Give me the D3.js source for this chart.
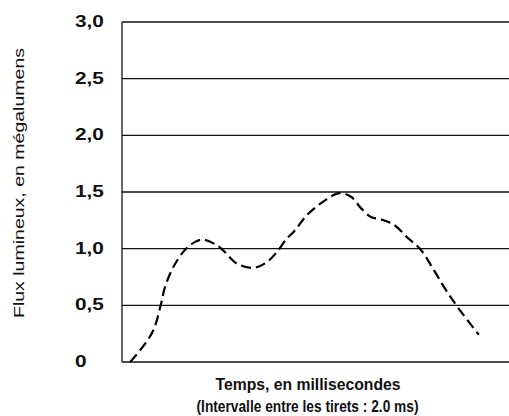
<!DOCTYPE html>
<html>
<head>
<meta charset="utf-8">
<script src="https://cdn.jsdelivr.net/npm/d3@7"></script>
<style>
  body { margin: 0; background: #fff; }
  text { font-family: "Liberation Sans", Arial, sans-serif; fill: #111; }
</style>
</head>
<body>
<div class="grp"></div>
<script>
// temps relatif (unites arbitraires) et flux
var temps = [2.1, 5.5, 8.1, 10.0, 11.1, 13.3, 16.3, 18.9, 21.0, 24.5, 26.6, 29.6, 33.9, 37.4, 40.0,
             42.6, 44.4, 47.9, 52.2, 56.1, 59.1, 61.7, 64.3, 66.8, 70.3, 73.7, 77.2, 80.6, 83.6, 86.6, 92.2];
var flux = [0.0, 0.14, 0.28, 0.50, 0.66, 0.84, 0.99, 1.06, 1.08, 1.03, 0.97, 0.87, 0.83, 0.88, 0.97,
            1.09, 1.15, 1.30, 1.42, 1.49, 1.46, 1.36, 1.28, 1.26, 1.21, 1.10, 0.99, 0.81, 0.64, 0.49, 0.24];
var yTicks = [0, 0.5, 1.0, 1.5, 2.0, 2.5, 3.0];
var yTickLabels = ["0", "0,5", "1,0", "1,5", "2,0", "2,5", "3,0"];
var yTitle = "Flux lumineux, en mégalumens";
var xTitle = ["Temps, en millisecondes", "(Intervalle entre les tirets : 2.0 ms)"];

var width = 509, height = 416;
var margin = {left: 122, top: 22, right: 0, bottom: 54};

var svg = d3.select(".grp").append("svg")
    .attr("width", width)
    .attr("height", height);

var x = d3.scaleLinear().domain([0, 100]).range([margin.left, width - margin.right]);
var y = d3.scaleLinear().domain([0, 3]).range([height - margin.bottom, margin.top]);

// lignes horizontales
svg.append("g")
    .selectAll("line")
    .data(yTicks)
    .enter().append("line")
    .attr("x1", x(0))
    .attr("x2", x(100))
    .attr("y1", function (d) { return y(d) })
    .attr("y2", function (d) { return y(d) })
    .attr("stroke", "#111")
    .attr("stroke-width", 1.3);

// axe vertical
svg.append("line")
    .attr("x1", x(0)).attr("x2", x(0))
    .attr("y1", y(3)).attr("y2", y(0))
    .attr("stroke", "#111")
    .attr("stroke-width", 1.3);

// etiquettes
svg.append("g")
    .selectAll("text")
    .data(yTicks)
    .enter().append("text")
    .attr("transform", function (d) { return "translate(75," + (y(d) + 5) + ") scale(1.3,1)" })
    .attr("font-size", 16)
    .attr("font-weight", "bold")
    .text(function (d, i) { return yTickLabels[i] });

svg.append("text")
    .attr("transform", "translate(24,183) rotate(-90)")
    .attr("text-anchor", "middle")
    .attr("font-size", 15)
    .attr("textLength", 270)
    .attr("lengthAdjust", "spacingAndGlyphs")
    .text(yTitle);

svg.append("text")
    .attr("x", 308).attr("y", 390)
    .attr("text-anchor", "middle")
    .attr("font-size", 16)
    .attr("font-weight", "bold")
    .attr("textLength", 185)
    .attr("lengthAdjust", "spacingAndGlyphs")
    .text(xTitle[0]);

svg.append("text")
    .attr("x", 307.5).attr("y", 412)
    .attr("text-anchor", "middle")
    .attr("font-size", 16)
    .attr("font-weight", "bold")
    .attr("textLength", 222)
    .attr("lengthAdjust", "spacingAndGlyphs")
    .text(xTitle[1]);

// courbe en tirets
var line = d3.line()
    .x(function (d) { return x(d[0]) })
    .y(function (d) { return y(d[1]) })
    .curve(d3.curveCatmullRom);

svg.append("path")
    .datum(d3.zip(temps, flux))
    .attr("d", line)
    .attr("fill", "none")
    .attr("stroke", "#000")
    .attr("stroke-width", 2.2)
    .attr("stroke-dasharray", "10,5");
</script>
</body>
</html>
